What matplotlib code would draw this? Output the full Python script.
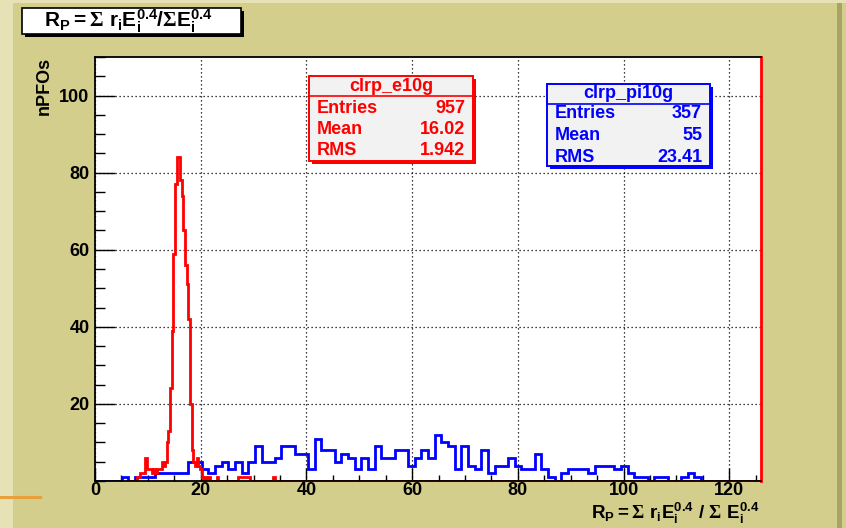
import numpy as np
import matplotlib
matplotlib.use("Agg")
import matplotlib.pyplot as plt
from matplotlib.patches import Rectangle
from matplotlib.lines import Line2D

# ---------------------------------------------------------------- data
x_range = (0.0, 126.0)
y_range = (0.0, 110.0)

# pion sample: 100 bins across the axis range
pi_bin_width = 1.26
pi_counts = [
    0, 0, 0, 0, 1, 0, 1, 1, 1, 2,
    2, 2, 2, 2, 5, 5, 3, 2, 4, 5,
    3, 5, 2, 5, 9, 5, 5, 6, 9, 9,
    7, 7, 3, 11, 8, 8, 5, 7, 6, 3,
    6, 3, 9, 6, 6, 8, 8, 4, 6, 8,
    6, 12, 10, 9, 3, 9, 4, 3, 8, 2,
    4, 4, 6, 4, 3, 3, 7, 3, 1, 0,
    2, 3, 3, 3, 2, 4, 4, 4, 3, 4,
    2, 1, 1, 0, 1, 1, 0, 0, 1, 2,
    1, 0, 0, 0, 0, 0, 0, 0, 0, 0,
]

# electron sample: 400 bins across the axis range; histogram starts at bin 19
e_bin_width = 0.315
e_start_bin = 19
e_n_bins = 400
e_counts = [
    0, 0, 0, 0, 0, 0,
    1, 1, 2, 2, 2, 6, 3, 3, 3, 2,
    3, 2, 3, 3, 3, 5, 4, 5, 10, 13,
    24, 39, 59, 77, 84, 84, 78, 74, 65, 56,
    51, 42, 20, 8, 5, 4, 6, 4, 3, 1,
    0, 1, 0, 1, 0, 0, 0, 0, 1, 0,
    0, 0, 0, 0, 0, 0, 0, 0, 0, 0,
    0, 1, 1, 1, 1, 1, 1, 1, 0, 0,
    0, 0, 0, 0, 0, 0, 0, 0, 0, 0,
    0, 0, 1,
]

x_ticks = [0, 20, 40, 60, 80, 100, 120]
y_ticks = [20, 40, 60, 80, 100]

stat_labels = ["Entries", "Mean", "RMS"]
e_name = "clrp_e10g"
e_stats = ["957", "16.02", "1.942"]
pi_name = "clrp_pi10g"
pi_stats = ["357", "55", "23.41"]

title_text = (r"$\mathrm{R_{P}} = \mathsf{Σ}\ \mathrm{r_{i}E_{i}^{0.4}/}"
              r"\mathsf{Σ}\mathrm{E_{i}^{0.4}}$")
x_label = (r"$\mathrm{R_{P}} = \mathsf{Σ}\ \mathrm{r_{i}E_{i}^{0.4}}\ /\ "
           r"\mathsf{Σ}\ \mathrm{E_{i}^{0.4}}$")
y_label = "nPFOs"

# ---------------------------------------------------------------- style
W, H = 846, 528
PAD = "#d3ce8b"
BEVEL_LIGHT = "#e6e2b6"
BEVEL_DARK = "#a9a466"
RED = "#ff0000"
BLUE = "#0000ff"
FONT = "Liberation Sans"

plt.rcParams["font.family"] = [FONT, "DejaVu Sans"]
plt.rcParams["font.weight"] = "bold"
plt.rcParams["mathtext.fontset"] = "custom"
plt.rcParams["mathtext.rm"] = "Liberation Sans:bold"
plt.rcParams["mathtext.it"] = "Liberation Sans:bold"
plt.rcParams["mathtext.bf"] = "Liberation Sans:bold"
plt.rcParams["mathtext.sf"] = "Liberation Serif"


def fx(px):
    return px / W


def fy(py):
    return 1.0 - py / H


fig = plt.figure(figsize=(W / 100, H / 100), dpi=100)
fig.patch.set_facecolor(PAD)

# canvas bevel and slide decoration
fig.add_artist(Rectangle((0, 0), fx(13), 1, transform=fig.transFigure,
                         facecolor=BEVEL_LIGHT, edgecolor="none", zorder=0))
fig.add_artist(Rectangle((0, fy(3)), 1, 3 / H, transform=fig.transFigure,
                         facecolor=BEVEL_LIGHT, edgecolor="none", zorder=0))
fig.add_artist(Rectangle((fx(837), 0), 5 / W, fy(3), transform=fig.transFigure,
                         facecolor=BEVEL_DARK, edgecolor="none", zorder=0))
fig.add_artist(Line2D([0, fx(40)], [fy(497), fy(497)], transform=fig.transFigure,
                      color="#e8a13a", lw=2.2, zorder=1))

# ---------------------------------------------------------------- axes
ax = fig.add_axes([fx(95), fy(481), fx(761) - fx(95), fy(57) - fy(481)])
ax.set_facecolor("white")
ax.set_xlim(*x_range)
ax.set_ylim(*y_range)

pi_edges = x_range[0] + pi_bin_width * np.arange(len(pi_counts) + 1)
ax.stairs(pi_counts, pi_edges, color=BLUE, lw=2.0, baseline=0, zorder=3)

e_full = np.zeros(e_n_bins - e_start_bin)
e_full[:len(e_counts)] = e_counts
e_edges = x_range[0] + e_bin_width * np.arange(e_start_bin, e_n_bins + 1)
ax.stairs(e_full, e_edges, color=RED, lw=2.0, baseline=0, zorder=4)

ax.set_xticks(x_ticks)
ax.set_yticks(y_ticks)
ax.set_xticks(np.arange(0, 126, 5), minor=True)
ax.set_yticks(np.arange(0, 111, 5), minor=True)
ax.grid(True, which="major", color="black", linestyle=(0, (1, 2.2)), lw=0.9)
ax.tick_params(axis="x", which="major", direction="in", length=9.1, width=1.0,
               labelsize=13, pad=1)
ax.tick_params(axis="x", which="minor", direction="in", length=4.6, width=1.0)
ax.tick_params(axis="y", which="major", direction="in", length=14.4, width=1.0,
               labelsize=13, pad=4)
ax.tick_params(axis="y", which="minor", direction="in", length=7.2, width=1.0)
for lab in ax.get_xticklabels() + ax.get_yticklabels():
    lab.set_fontweight("bold")
for s in ax.spines.values():
    s.set_linewidth(1.3)
    s.set_zorder(6)
ax.spines["right"].set_color(RED)
ax.spines["right"].set_linewidth(2.0)

fig.text(fx(44), fy(57), y_label, rotation=90, ha="center", va="top",
         fontsize=13, fontweight="bold")
fig.text(fx(759), fy(519), x_label, ha="right", va="baseline", fontsize=13.5)

# ---------------------------------------------------------------- title pave
tx0, ty0, tx1, ty1 = 22, 8, 241, 34
fig.add_artist(Rectangle((fx(tx0 + 3), fy(ty1 + 3)), (tx1 - tx0) / W, (ty1 - ty0) / H,
                         transform=fig.transFigure, facecolor="black",
                         edgecolor="none", zorder=5))
fig.add_artist(Rectangle((fx(tx0), fy(ty1)), (tx1 - tx0) / W, (ty1 - ty0) / H,
                         transform=fig.transFigure, facecolor="white",
                         edgecolor="black", lw=1.2, zorder=6))
fig.text(fx(128), fy(27), title_text, ha="center", va="baseline",
         fontsize=15, zorder=7)


# ---------------------------------------------------------------- stat boxes
def stats_box(x0, y0, x1, y1, sep_y, title_y, row_ys, name, values, color,
              label_x, value_x):
    w, h = (x1 - x0) / W, (y1 - y0) / H
    fig.add_artist(Rectangle((fx(x0 + 3), fy(y1 + 3)), w, h, transform=fig.transFigure,
                             facecolor=color, edgecolor="none", zorder=8))
    fig.add_artist(Rectangle((fx(x0), fy(y1)), w, h, transform=fig.transFigure,
                             facecolor="#f2f2f2", edgecolor=color, lw=1.4, zorder=9))
    fig.add_artist(Line2D([fx(x0), fx(x1)], [fy(sep_y), fy(sep_y)],
                          transform=fig.transFigure, color=color, lw=1.2, zorder=10))
    fig.text(fx((x0 + x1) / 2), fy(title_y), name, ha="center", va="center",
             color=color, fontsize=13, fontweight="bold", zorder=11)
    for lab, val, ry in zip(stat_labels, values, row_ys):
        fig.text(fx(label_x), fy(ry), lab, ha="left", va="center", color=color,
                 fontsize=13, fontweight="bold", zorder=11)
        fig.text(fx(value_x), fy(ry), val, ha="right", va="center", color=color,
                 fontsize=13, fontweight="bold", zorder=11)


stats_box(309, 76, 473, 161, 96, 86.5, [108.5, 130, 150], e_name, e_stats, RED,
          317, 465)
stats_box(547, 84, 710, 166, 104, 93.5, [114, 136, 157], pi_name, pi_stats, BLUE,
          555, 702)

fig.savefig("out.png", dpi=100, facecolor=fig.get_facecolor())
